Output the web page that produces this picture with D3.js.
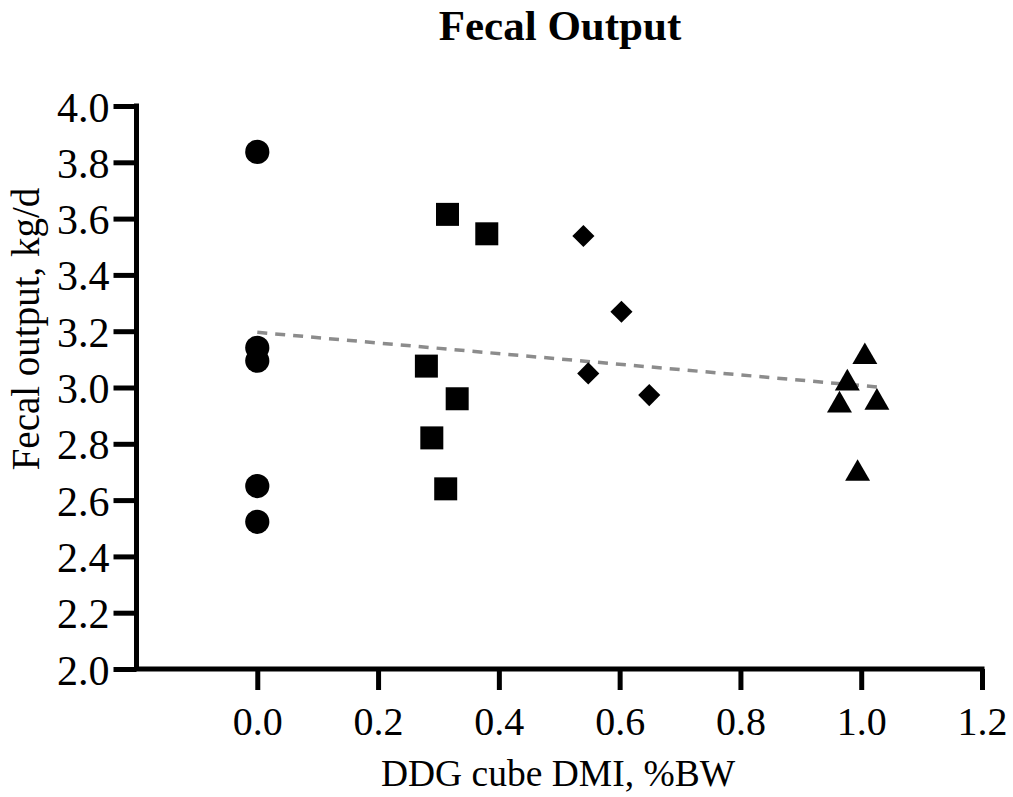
<!DOCTYPE html>
<html>
<head>
<meta charset="utf-8">
<script src="https://cdn.jsdelivr.net/npm/d3@7"></script>
<style>
  html, body { margin: 0; padding: 0; background: #fff; }
  svg { display: block; }
  text { font-family: "Liberation Serif", "Times New Roman", serif; fill: #000; }
</style>
</head>
<body>
<script>
// Fecal output by DDG cube intake group
const controlX = [0, 0, 0, 0, 0];
const controlY = [3.837, 3.141, 3.095, 2.650, 2.523];

const lowX = [0.315, 0.380, 0.280, 0.331, 0.289, 0.312];
const lowY = [3.615, 3.546, 3.076, 2.960, 2.821, 2.640];

const midX = [0.540, 0.603, 0.548, 0.649];
const midY = [3.538, 3.269, 3.050, 2.973];

const highX = [1.006, 0.977, 0.964, 1.026, 0.994];
const highY = [3.109, 3.015, 2.937, 2.947, 2.694];

// fitted trend line end points
const trendX = [0, 1.026];
const trendY = [3.196, 3.002];

const xTicks = [0, 0.2, 0.4, 0.6, 0.8, 1.0, 1.2];
const yTicks = [2.0, 2.2, 2.4, 2.6, 2.8, 3.0, 3.2, 3.4, 3.6, 3.8, 4.0];

const W = 1013, H = 797;
const svg = d3.select("body").append("svg").attr("width", W).attr("height", H);

const x = d3.scaleLinear().domain([-0.2, 1.2]).range([136.5, 982]);
const y = d3.scaleLinear().domain([2, 4]).range([669, 106]);

// title
svg.append("text")
  .attr("x", 560).attr("y", 40)
  .attr("text-anchor", "middle")
  .attr("font-size", 43).attr("font-weight", "bold")
  .text("Fecal Output");

// y axis
const yAxis = svg.append("g")
  .attr("transform", `translate(${x(-0.2)},0)`)
  .call(d3.axisLeft(y).tickValues(yTicks).tickFormat(d3.format(".1f")).tickSize(23).tickPadding(4));
yAxis.select(".domain").attr("stroke", "#000").attr("stroke-width", 5).attr("d", `M0,${y(4) - 2.5}V${y(2)}`);
yAxis.selectAll(".tick line").attr("stroke", "#000").attr("stroke-width", 5);
yAxis.selectAll(".tick text")
  .attr("font-size", 42).attr("fill", "#000").attr("dy", 15);

// x axis
const xAxis = svg.append("g")
  .attr("transform", `translate(0,${y(2)})`)
  .call(d3.axisBottom(x).tickValues(xTicks).tickFormat(d3.format(".1f")).tickSize(21).tickPadding(4));
xAxis.select(".domain").attr("stroke", "#000").attr("stroke-width", 5).attr("d", `M${x(-0.2) - 2.5},0H${x(1.2) + 2.5}`);
xAxis.selectAll(".tick line").attr("stroke", "#000").attr("stroke-width", 5);
xAxis.selectAll(".tick text")
  .attr("font-size", 40).attr("fill", "#000").attr("y", 0).attr("dy", 66);

// axis titles
svg.append("text")
  .attr("x", 558).attr("y", 786)
  .attr("text-anchor", "middle")
  .attr("font-size", 37.5)
  .text("DDG cube DMI, %BW");

svg.append("text")
  .attr("transform", "translate(39,329) rotate(-90)")
  .attr("text-anchor", "middle")
  .attr("font-size", 39)
  .text("Fecal output, kg/d");

// trend line
svg.append("line")
  .attr("x1", x(trendX[0])).attr("y1", y(trendY[0]))
  .attr("x2", x(trendX[1])).attr("y2", y(trendY[1]))
  .attr("stroke", "#8c8c8c").attr("stroke-width", 3.5)
  .attr("stroke-dasharray", "10,8");

// markers
const groups = [
  { xs: controlX, ys: controlY, sym: d3.symbol().type(d3.symbolCircle).size(460), rot: 0 },
  { xs: lowX, ys: lowY, sym: d3.symbol().type(d3.symbolSquare).size(529), rot: 0 },
  { xs: midX, ys: midY, sym: d3.symbol().type(d3.symbolSquare).size(245), rot: 45 },
  { xs: highX, ys: highY, sym: d3.symbol().type(d3.symbolTriangle).size(270), rot: 0 }
];

groups.forEach(g => {
  svg.append("g").selectAll("path")
    .data(g.xs.map((v, i) => [v, g.ys[i]]))
    .join("path")
    .attr("d", g.sym())
    .attr("transform", d => `translate(${x(d[0])},${y(d[1])}) rotate(${g.rot})`)
    .attr("fill", "#000");
});
</script>
</body>
</html>
